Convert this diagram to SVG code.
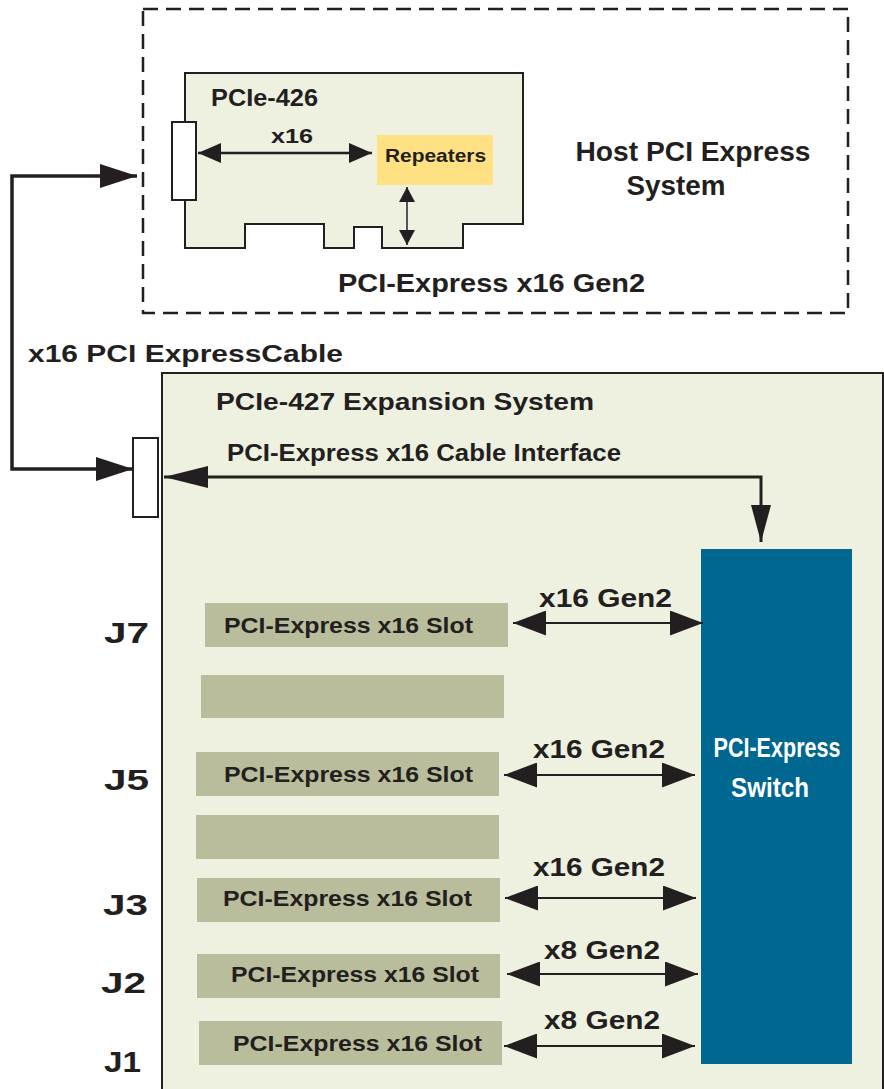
<svg xmlns="http://www.w3.org/2000/svg" width="884" height="1089" viewBox="0 0 884 1089">
<defs>
<style>
text{font-family:"Liberation Sans",Arial,Helvetica,sans-serif;font-weight:bold;fill:#231F20}
.slot{fill:#B9BD9B}
.slotT{font-size:22px}
.gen{font-size:26px}
.jl{font-size:29px}
.ln{stroke:#231F20;fill:none}
</style>
<marker id="ahS" markerUnits="userSpaceOnUse" viewBox="0 0 33 25" refX="33" refY="12.5" markerWidth="33" markerHeight="25" orient="auto-start-reverse"><path d="M0,0 L33,12.5 L0,25 z" fill="#231F20"/></marker>
<marker id="ahC" markerUnits="userSpaceOnUse" viewBox="0 0 37 24" refX="37" refY="12" markerWidth="37" markerHeight="24" orient="auto-start-reverse"><path d="M0,0 L37,12 L0,24 z" fill="#231F20"/></marker>
<marker id="ahL" markerUnits="userSpaceOnUse" viewBox="0 0 44 22" refX="44" refY="11" markerWidth="44" markerHeight="22" orient="auto-start-reverse"><path d="M0,0 L44,11 L0,22 z" fill="#231F20"/></marker>
<marker id="ahD" markerUnits="userSpaceOnUse" viewBox="0 0 37 20" refX="37" refY="10" markerWidth="37" markerHeight="20" orient="auto-start-reverse"><path d="M0,0 L37,10 L0,20 z" fill="#231F20"/></marker>
<marker id="ahM" markerUnits="userSpaceOnUse" viewBox="0 0 23 20" refX="23" refY="10" markerWidth="23" markerHeight="20" orient="auto-start-reverse"><path d="M0,0 L23,10 L0,20 z" fill="#231F20"/></marker>
<marker id="ahV" markerUnits="userSpaceOnUse" viewBox="0 0 15 16" refX="15" refY="8" markerWidth="15" markerHeight="16" orient="auto-start-reverse"><path d="M0,0 L15,8 L0,16 z" fill="#231F20"/></marker>
</defs>
<rect width="884" height="1089" fill="#FFFFFF"/>

<g id="host">
<rect x="143" y="9" width="705" height="304" fill="none" stroke="#231F20" stroke-width="2.5" stroke-dasharray="15,8"/>
<text x="693" y="161" font-size="27" text-anchor="middle" textLength="235" lengthAdjust="spacingAndGlyphs">Host PCI Express</text>
<text x="676" y="195" font-size="27" text-anchor="middle" textLength="99" lengthAdjust="spacingAndGlyphs">System</text>
<text x="338" y="292" font-size="26" textLength="307" lengthAdjust="spacingAndGlyphs">PCI-Express x16 Gen2</text>
</g>

<g id="pcie426">
<path d="M185,73 L523,73 L523,224 L463,224 L463,248 L382,248 L382,227 L354,227 L354,248 L324,248 L324,224 L245,224 L245,248 L185,248 Z" fill="#EEF0E0" stroke="#231F20" stroke-width="2"/>
<rect x="172" y="122" width="24" height="78" fill="#FFFFFF" stroke="#231F20" stroke-width="2"/>
<text x="211" y="106" font-size="24" textLength="107" lengthAdjust="spacingAndGlyphs">PCIe-426</text>
<text x="271" y="143" font-size="21" textLength="42" lengthAdjust="spacingAndGlyphs">x16</text>
</g>

<g id="repeaters">
<rect x="377" y="135" width="116" height="50" fill="#FFE184"/>
<text x="385" y="162" font-size="19" textLength="101" lengthAdjust="spacingAndGlyphs">Repeaters</text>
</g>

<g id="expansion">
<rect x="162" y="373" width="721" height="730" fill="#EEF0E0" stroke="#231F20" stroke-width="2"/>
<rect x="133" y="438" width="25" height="79" fill="#FFFFFF" stroke="#231F20" stroke-width="2"/>
<text x="216" y="410" font-size="24" textLength="378" lengthAdjust="spacingAndGlyphs">PCIe-427 Expansion System</text>
<text x="227" y="461" font-size="23" textLength="394" lengthAdjust="spacingAndGlyphs">PCI-Express x16 Cable Interface</text>
</g>

<text x="28" y="362" font-size="24" textLength="315" lengthAdjust="spacingAndGlyphs">x16 PCI ExpressCable</text>

<g id="switch">
<rect x="701" y="549" width="151" height="515" fill="#006791"/>
<text x="777" y="757" font-size="27" text-anchor="middle" style="fill:#FFFFFF" textLength="127" lengthAdjust="spacingAndGlyphs">PCI-Express</text>
<text x="770" y="797" font-size="27" text-anchor="middle" style="fill:#FFFFFF" textLength="78" lengthAdjust="spacingAndGlyphs">Switch</text>
</g>

<g id="slotJ7">
<rect class="slot" x="205" y="603" width="303" height="44"/>
<text class="slotT" x="224" y="633" textLength="249" lengthAdjust="spacingAndGlyphs">PCI-Express x16 Slot</text>
<text class="jl" x="104" y="643" textLength="45" lengthAdjust="spacingAndGlyphs">J7</text>
</g>
<g id="slotJ6">
<rect class="slot" x="201" y="675" width="303" height="43"/>
</g>
<g id="slotJ5">
<rect class="slot" x="196" y="752" width="303" height="44"/>
<text class="slotT" x="224" y="782" textLength="249" lengthAdjust="spacingAndGlyphs">PCI-Express x16 Slot</text>
<text class="jl" x="104" y="790" textLength="45" lengthAdjust="spacingAndGlyphs">J5</text>
</g>
<g id="slotJ4">
<rect class="slot" x="196" y="815" width="303" height="44"/>
</g>
<g id="slotJ3">
<rect class="slot" x="197" y="878" width="303" height="44"/>
<text class="slotT" x="223" y="906" textLength="249" lengthAdjust="spacingAndGlyphs">PCI-Express x16 Slot</text>
<text class="jl" x="103" y="915" textLength="45" lengthAdjust="spacingAndGlyphs">J3</text>
</g>
<g id="slotJ2">
<rect class="slot" x="197" y="954" width="303" height="44"/>
<text class="slotT" x="231" y="982" textLength="248" lengthAdjust="spacingAndGlyphs">PCI-Express x16 Slot</text>
<text class="jl" x="101" y="993" textLength="45" lengthAdjust="spacingAndGlyphs">J2</text>
</g>
<g id="slotJ1">
<rect class="slot" x="199" y="1021" width="303" height="44"/>
<text class="slotT" x="233" y="1051" textLength="249" lengthAdjust="spacingAndGlyphs">PCI-Express x16 Slot</text>
<text class="jl" x="104" y="1072" textLength="37" lengthAdjust="spacingAndGlyphs">J1</text>
</g>

<g id="connectors">
<path class="ln" d="M137,176 L12,176 L12,469 L133,469" stroke-width="3.5" marker-start="url(#ahC)" marker-end="url(#ahC)"/>
<line class="ln" x1="198" y1="153" x2="372" y2="153" stroke-width="2.5" marker-start="url(#ahM)" marker-end="url(#ahM)"/>
<line class="ln" x1="407" y1="187" x2="407" y2="245" stroke-width="1.5" marker-start="url(#ahV)" marker-end="url(#ahV)"/>
<path class="ln" d="M164,477 L761,477 L761,542" stroke-width="3" marker-start="url(#ahL)" marker-end="url(#ahD)"/>
<line class="ln" x1="513" y1="623" x2="703" y2="623" stroke-width="2" marker-start="url(#ahS)" marker-end="url(#ahS)"/>
<line class="ln" x1="504" y1="775" x2="695" y2="775" stroke-width="2" marker-start="url(#ahS)" marker-end="url(#ahS)"/>
<line class="ln" x1="505" y1="898" x2="696" y2="898" stroke-width="2" marker-start="url(#ahS)" marker-end="url(#ahS)"/>
<line class="ln" x1="507" y1="974" x2="698" y2="974" stroke-width="2" marker-start="url(#ahS)" marker-end="url(#ahS)"/>
<line class="ln" x1="504" y1="1046" x2="695" y2="1046" stroke-width="2" marker-start="url(#ahS)" marker-end="url(#ahS)"/>
<text class="gen" x="539" y="607" textLength="133" lengthAdjust="spacingAndGlyphs">x16 Gen2</text>
<text class="gen" x="533" y="758" textLength="132" lengthAdjust="spacingAndGlyphs">x16 Gen2</text>
<text class="gen" x="533" y="876" textLength="132" lengthAdjust="spacingAndGlyphs">x16 Gen2</text>
<text class="gen" x="544" y="959" textLength="116" lengthAdjust="spacingAndGlyphs">x8 Gen2</text>
<text class="gen" x="544" y="1029" textLength="116" lengthAdjust="spacingAndGlyphs">x8 Gen2</text>
</g>
</svg>
